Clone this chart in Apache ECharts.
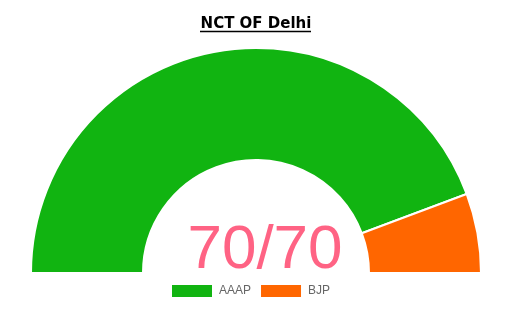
<!DOCTYPE html>
<html><head><meta charset="utf-8">
<script src="https://cdn.jsdelivr.net/npm/echarts@6/dist/echarts.min.js"></script>
<style>html,body{margin:0;padding:0;background:#fff}#c{width:527px;height:309px}</style>
</head><body><div id="c"></div>
<script>
const title = 'NCT OF Delhi';
const parties = ['AAAP', 'BJP'];
const seats = [62, 8];
const colors = ['#11b411', '#ff6600'];
const centerLabel = '70/70';

const chart = echarts.init(document.getElementById('c'), null, {renderer: 'canvas'});
chart.setOption({
  animation: false,
  legend: {
    data: parties,
    top: 280,
    left: 167,
    icon: 'rect',
    itemWidth: 40,
    itemHeight: 12,
    itemGap: 10,
    itemStyle: {borderWidth: 0},
    textStyle: {color: '#666', fontSize: 12, fontFamily: 'Liberation Sans, Arial, sans-serif', padding: [0, 0, 0, 2]}
  },
  graphic: [
    {type: 'text', x: 256, y: 24,
     style: {text: title, font: 'bold 15px "DejaVu Sans", Verdana, sans-serif', fill: '#000', textAlign: 'center', textVerticalAlign: 'middle'}},
    {type: 'line', shape: {x1: 200, y1: 31.5, x2: 311, y2: 31.5}, style: {stroke: '#000', lineWidth: 1.3}},
    {type: 'text', x: 265, y: 251,
     style: {text: centerLabel, font: '62px "Liberation Sans", Arial, sans-serif', fill: '#ff6384', textAlign: 'center', textVerticalAlign: 'middle'}}
  ],
  series: [{
    type: 'pie',
    center: [256, 273],
    radius: [113, 225],
    startAngle: 180,
    endAngle: 0,
    clockwise: true,
    label: {show: false},
    labelLine: {show: false},
    itemStyle: {borderColor: '#fff', borderWidth: 2},
    data: parties.map((p, i) => ({name: p, value: seats[i], itemStyle: {color: colors[i]}}))
  }]
});
</script></body></html>
